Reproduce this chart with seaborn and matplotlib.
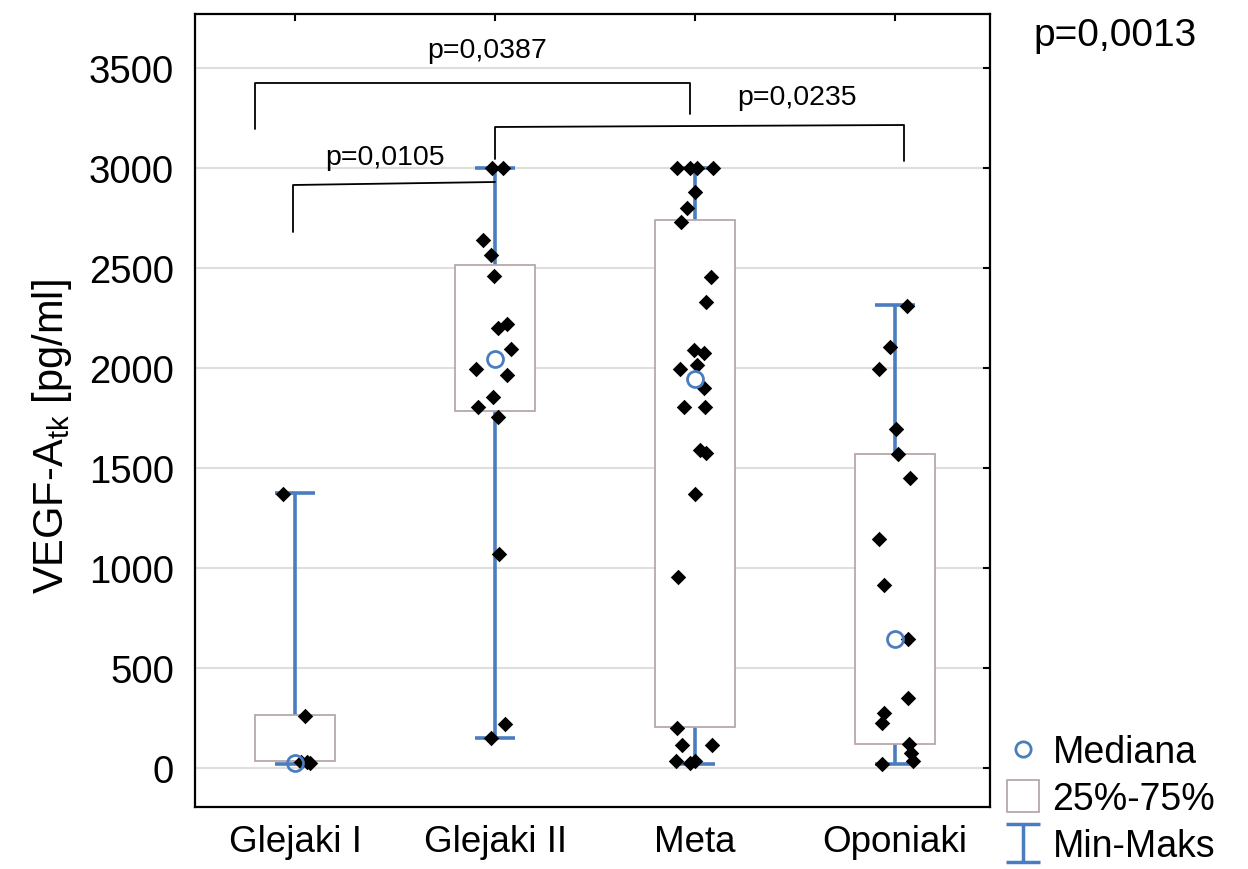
import numpy as np
import pandas as pd
import matplotlib
matplotlib.use("Agg")
import matplotlib.pyplot as plt
import seaborn as sns
from matplotlib.path import Path
from matplotlib.lines import Line2D

# ---------------- data ----------------
categories = ["Glejaki I", "Glejaki II", "Meta", "Oponiaki"]
q1 = [35, 1785, 205, 120]
q3 = [265, 2515, 2740, 1570]
medians = [25, 2045, 1945, 645]
mins = [20, 150, 20, 20]
maxs = [1375, 3000, 3000, 2315]

vals_g1 = [1370, 260, 30, 30, 25]
jit_g1 = [-0.06, 0.05, 0.03, 0.06, 0.075]

vals_g2 = [3000, 3000, 2640, 2565, 2460, 2220, 2200, 2095, 1995, 1965,
           1855, 1805, 1755, 1070, 220, 150]
jit_g2 = [-0.015, 0.04, -0.06, -0.02, -0.005, 0.06, 0.015, 0.08, -0.095, 0.06,
          -0.01, -0.085, 0.015, 0.02, 0.05, -0.02]

vals_meta = [3000, 3000, 3000, 3000, 2880, 2800, 2730, 2455, 2330, 2090,
             2075, 2015, 1995, 1900, 1805, 1805, 1590, 1575, 1370, 955,
             200, 115, 115, 35, 25, 35]
jit_meta = [-0.09, -0.025, 0.01, 0.09, 0.0, -0.04, -0.07, 0.08, 0.055, -0.005,
            0.045, 0.01, -0.075, 0.045, -0.055, 0.05, 0.025, 0.055, 0.0, -0.085,
            -0.09, -0.065, 0.085, -0.095, -0.025, 0.0]

vals_op = [2310, 2105, 1995, 1695, 1570, 1450, 1145, 915, 645, 350,
           275, 225, 120, 75, 35, 20]
jit_op = [0.06, -0.025, -0.08, 0.005, 0.015, 0.075, -0.08, -0.055, 0.065, 0.065,
          -0.055, -0.065, 0.07, 0.08, 0.09, -0.065]

yticks = [0, 500, 1000, 1500, 2000, 2500, 3000, 3500]

# comparisons: (left idx, right idx, label)
comp_pairs = [(0, 2, "p=0,0387"), (0, 1, "p=0,0105"), (1, 3, "p=0,0235")]
overall_p = "p=0,0013"

# ---------------- style ----------------
sns.set_style("white")
plt.rcParams["font.family"] = ["Liberation Sans", "DejaVu Sans"]
plt.rcParams["mathtext.fontset"] = "custom"
plt.rcParams["mathtext.rm"] = "Liberation Sans"
for key in ["text.color", "axes.labelcolor", "xtick.color", "ytick.color"]:
    plt.rcParams[key] = "black"

BLUE = "#4a7dbf"
BOXEDGE = "#b8a8aa"

fig = plt.figure(figsize=(12.48, 8.70), dpi=100)
ax = fig.add_axes([195 / 1248, 1 - 808 / 870, (990 - 195) / 1248, (808 - 15) / 870])

groups = [(vals_g1, jit_g1), (vals_g2, jit_g2), (vals_meta, jit_meta), (vals_op, jit_op)]
rows = []
for i, (vals, jits) in enumerate(groups):
    for v, j in zip(vals, jits):
        rows.append({"group": categories[i], "value": v, "xpos": i + j})
df = pd.DataFrame(rows)

xs = np.arange(len(categories))

# whiskers (min-max)
ax.vlines(xs, mins, maxs, color=BLUE, lw=2.6, zorder=1)
ax.hlines(maxs, xs - 0.1, xs + 0.1, color=BLUE, lw=2.6, zorder=1)
ax.hlines(mins, xs - 0.1, xs + 0.1, color=BLUE, lw=2.6, zorder=1)

# boxes 25-75%
ax.bar(xs, np.array(q3) - np.array(q1), bottom=q1, width=0.4,
       facecolor="white", edgecolor=BOXEDGE, linewidth=1.3, zorder=2)

# points
sns.scatterplot(data=df, x="xpos", y="value", marker="D", color="black",
                s=62, linewidth=0, ax=ax, zorder=4, legend=False)

# medians
ax.plot(xs, medians, ls="none", marker="o", ms=11.5, mfc="none", mec=BLUE,
        mew=2, zorder=5)

# axes
ax.set_xlim(-0.5, 3.475)
ax.set_ylim(-195, 3770)
ax.set_xticks(xs)
ax.set_xticklabels(categories)
ax.set_yticks(yticks)
ax.set_yticklabels([str(t) for t in yticks])
ax.set_xlabel("")
ax.set_ylabel("")
ax.yaxis.grid(True, color="#dedede", lw=1.5)
ax.set_axisbelow(True)
for s in ax.spines.values():
    s.set_color("black")
    s.set_linewidth(1.6)
ax.tick_params(axis="both", direction="in", length=5, width=1.5,
               top=True, right=True, colors="black")
ax.tick_params(axis="y", labelsize=27.5, pad=15)
ax.tick_params(axis="x", labelsize=26.5, pad=12)

fig.text(52 / 1248, 1 - 437 / 870, r"VEGF-A$_{\mathregular{tk}}$ [pg/ml]",
         rotation=90, ha="center", va="center", fontsize=30)

# significance brackets
lw_b = 1.3
# p=0,0387 : Glejaki I -> Meta
ax.plot([-0.2, -0.2, 1.975, 1.975], [3195, 3425, 3425, 3270], color="black", lw=lw_b, zorder=3)
ax.text(0.96, 3590, comp_pairs[0][2], ha="center", va="center", fontsize=20.5)
# p=0,0105 : Glejaki I -> Glejaki II
ax.plot([-0.01, -0.01, 1.0], [2680, 2915, 2930], color="black", lw=lw_b, zorder=3)
ax.text(0.45, 3055, comp_pairs[1][2], ha="center", va="center", fontsize=20.5)
# p=0,0235 : Glejaki II -> Oponiaki
ax.plot([1.0, 1.0, 3.045, 3.045], [3045, 3205, 3215, 3035], color="black", lw=lw_b, zorder=3)
ax.text(2.51, 3355, comp_pairs[2][2], ha="center", va="center", fontsize=20.5)

fig.text(1115 / 1248, 1 - 36 / 870, overall_p, ha="center", va="center", fontsize=28)

# legend
ibeam = Path([(-0.9, -1), (0.9, -1), (0, -1), (0, 1), (-0.9, 1), (0.9, 1)],
             [Path.MOVETO, Path.LINETO, Path.MOVETO, Path.LINETO, Path.MOVETO, Path.LINETO])
h1 = Line2D([], [], ls="none", marker="o", ms=11, mfc="none", mec=BLUE, mew=2)
h2 = Line2D([], [], ls="none", marker="s", ms=23, mfc="white", mec=BOXEDGE, mew=1.3)
h3 = Line2D([], [], ls="none", marker=ibeam, ms=27, mfc="none", mec=BLUE, mew=2.5)
fig.legend([h1, h2, h3], ["Mediana", "25%-75%", "Min-Maks"],
           loc="upper left", bbox_to_anchor=(1000 / 1248, 1 - 735 / 870),
           frameon=False, fontsize=27, borderpad=0, handletextpad=0.2,
           labelspacing=0.3, handlelength=1.2, borderaxespad=0)

fig.savefig("out.png", dpi=100)
